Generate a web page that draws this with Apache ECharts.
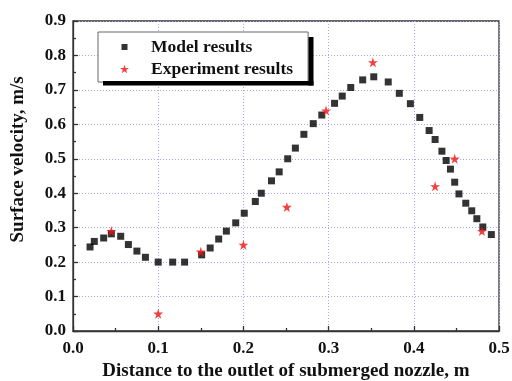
<!DOCTYPE html>
<html>
<head>
<meta charset="utf-8">
<script src="https://cdn.jsdelivr.net/npm/echarts@6/dist/echarts.min.js"></script>
<style>
  html, body { margin: 0; padding: 0; background: #fff; }
  #chart { width: 512px; height: 381px; }
</style>
</head>
<body>
<div id="chart"></div>
<script>
// Model surface velocity along the mould (distance in m, velocity in m/s)
const modelX = [0.020, 0.025, 0.036, 0.045, 0.056, 0.065, 0.075, 0.085, 0.100, 0.117, 0.131,
  0.151, 0.161, 0.171, 0.180, 0.191, 0.201, 0.214, 0.221, 0.233, 0.242, 0.252, 0.261, 0.271,
  0.282, 0.292, 0.307, 0.316, 0.326, 0.340, 0.353, 0.370, 0.383, 0.396, 0.407, 0.418, 0.425,
  0.433, 0.438, 0.443, 0.448, 0.453, 0.461, 0.468, 0.474, 0.481, 0.491];
const modelY = [0.244, 0.260, 0.270, 0.282, 0.275, 0.251, 0.232, 0.214, 0.200, 0.200, 0.200,
  0.221, 0.241, 0.267, 0.290, 0.314, 0.342, 0.376, 0.400, 0.436, 0.462, 0.500, 0.531, 0.571,
  0.602, 0.627, 0.661, 0.682, 0.707, 0.729, 0.738, 0.723, 0.690, 0.660, 0.620, 0.582, 0.556,
  0.522, 0.495, 0.470, 0.432, 0.398, 0.371, 0.349, 0.326, 0.302, 0.280];

// Measured surface velocity
const expX = [0.045, 0.100, 0.150, 0.200, 0.251, 0.297, 0.352, 0.425, 0.448, 0.480];
const expY = [0.29, 0.05, 0.23, 0.25, 0.36, 0.64, 0.78, 0.42, 0.50, 0.29];

const seriesNames = ['Model results', 'Experiment results'];
const xTitle = 'Distance to the outlet of submerged nozzle, m';
const yTitle = 'Surface velocity, m/s';

const STAR = 'path://M0,-1L0.2245,-0.309L0.951,-0.309L0.363,0.118L0.588,0.809L0,0.382L-0.588,0.809L-0.363,0.118L-0.951,-0.309L-0.2245,-0.309Z';
// smaller square inside a 9x9 box for the legend key
const LEGEND_SQUARE = 'path://M0,0M1.5,1.5h6v6h-6zM9,9';
const FONT = '"Liberation Serif", "Times New Roman", serif';

const pairs = (xs, ys) => xs.map((x, i) => [x, ys[i]]);

const gridLine = { show: true, lineStyle: { color: '#a8a8e6', type: [1, 2], width: 1 } };
const axisCommon = {
  type: 'value',
  axisLine: { show: true, lineStyle: { color: '#333', width: 1.3 } },
  axisTick: { show: true, inside: true, length: 5, lineStyle: { color: '#333', width: 1.3 } },
  minorTick: { show: true, splitNumber: 2, length: 3, lineStyle: { color: '#333', width: 1.3 } },
  splitLine: gridLine,
  axisLabel: {
    color: '#111', fontFamily: FONT, fontWeight: 'bold', fontSize: 17,
    formatter: v => v.toFixed(1)
  },
  nameTextStyle: { color: '#111', fontFamily: FONT, fontWeight: 'bold', fontSize: 19 }
};

const chart = echarts.init(document.getElementById('chart'), null, { renderer: 'canvas' });
chart.setOption({
  animation: false,
  backgroundColor: '#fff',
  grid: {
    left: 73, right: 13, top: 21, bottom: 50,
    outerBoundsMode: 'none', containLabel: false,
    show: true, borderColor: '#333', borderWidth: 1.3, backgroundColor: 'transparent'
  },
  xAxis: Object.assign({}, axisCommon, {
    min: 0, max: 0.5, interval: 0.1,
    name: xTitle, nameLocation: 'middle', nameGap: 31,
    axisLabel: Object.assign({}, axisCommon.axisLabel, { margin: 9, showMaxLabel: true })
  }),
  yAxis: Object.assign({}, axisCommon, {
    min: 0, max: 0.9, interval: 0.1,
    // leading spaces lift the rotated title a little above the axis centre
    name: '       ' + yTitle, nameLocation: 'middle', nameGap: 45,
    axisLabel: Object.assign({}, axisCommon.axisLabel, { margin: 7 })
  }),
  // drop shadow along the right and bottom edges of the legend box, on its own layer
  graphic: {
    zlevel: 1, z: 100,
    elements: [
      { type: 'rect', zlevel: 1, z: 100, shape: { x: 308.5, y: 37, width: 5, height: 48.5 }, style: { fill: '#000' } },
      { type: 'rect', zlevel: 1, z: 100, shape: { x: 103, y: 81, width: 210.5, height: 4.5 }, style: { fill: '#000' } }
    ]
  },
  legend: {
    orient: 'vertical',
    left: 98, top: 32, z: 5,
    padding: [6, 15, 4, 22],
    itemGap: 4,
    itemWidth: 9, itemHeight: 9,
    selectedMode: false,
    backgroundColor: '#fff',
    borderColor: '#666', borderWidth: 1,
    textStyle: { color: '#111', fontFamily: FONT, fontWeight: 'bold', fontSize: 17.5, padding: [0, 0, 0, 17] },
    data: [
      { name: seriesNames[0], icon: LEGEND_SQUARE },
      { name: seriesNames[1], icon: STAR }
    ]
  },
  series: [
    {
      name: seriesNames[0], type: 'scatter',
      symbol: 'rect', symbolSize: 7,
      itemStyle: { color: '#000' },
      data: pairs(modelX, modelY), z: 2
    },
    {
      name: seriesNames[1], type: 'scatter',
      symbol: STAR, symbolSize: 10,
      itemStyle: { color: '#f01010' },
      data: pairs(expX, expY), z: 3
    }
  ]
});
</script>
</body>
</html>
